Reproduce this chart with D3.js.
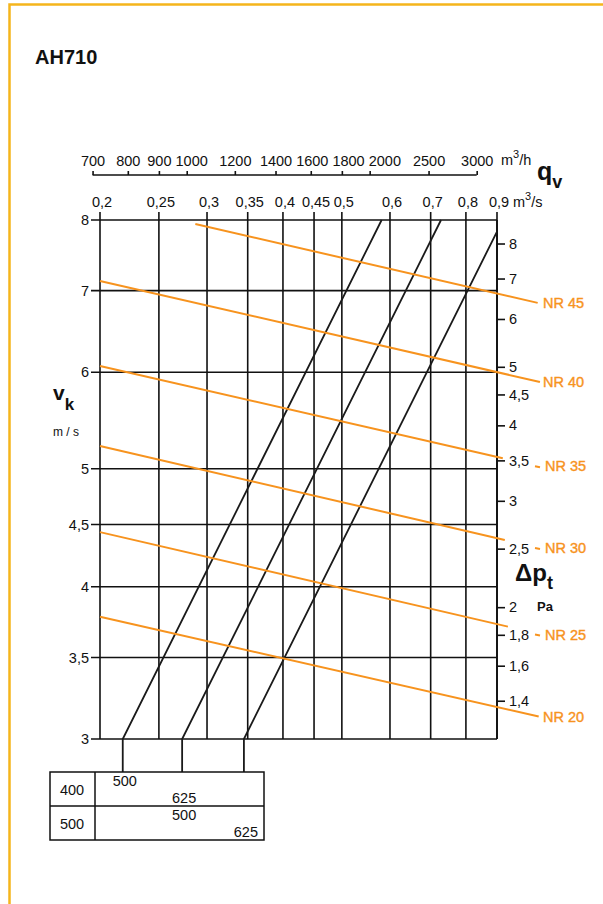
<!DOCTYPE html>
<html>
<meta charset="utf-8">
<title>AH710</title>
<script src="https://d3js.org/d3.v7.min.js" charset="utf-8"></script>
<style>
	body { margin: 0; background: #fff; }
	text { font-family: "Liberation Sans", Arial, sans-serif; fill: #111; }
	.grid line { stroke: #111; stroke-width: 1.6; }
	.duct { stroke: #1a1a1a; stroke-width: 1.8; fill: none; }
	.nr { stroke: #f7931e; stroke-width: 2; fill: none; }
	.nrlabel { fill: #f7931e; stroke: #f7931e; stroke-width: 0.4; font-size: 14.5px; }
	.tbl { stroke: #111; stroke-width: 1.5; fill: none; }
</style>
<body>
<script>

	// flow, m3/s (bottom labels) and m3/h (top scale)
	var qTicks = [0.2, 0.25, 0.3, 0.35, 0.4, 0.45, 0.5, 0.6, 0.7, 0.8, 0.9];
	var qhTicks = [700, 800, 900, 1000, 1200, 1400, 1600, 1800, 2000, 2500, 3000];
	// face velocity, m/s
	var vTicks = [3, 3.5, 4, 4.5, 5, 6, 7, 8];
	// pressure drop, Pa
	var dpTicks = [1.4, 1.6, 1.8, 2, 2.5, 3, 3.5, 4, 4.5, 5, 6, 7, 8];

	// duct lines: flow q (m3/s) where each line meets v = 3 m/s
	var ductQ = [0.218, 0.273, 0.345];
	var tableRows = ["400", "500"];
	var tableCells = [
		[{label: "500", duct: 0}, {label: "625", duct: 1}],
		[{label: "500", duct: 1}, {label: "625", duct: 2}]
	];

	// NR curves: start / end as [q, v]
	var nrNames = ["NR 45", "NR 40", "NR 35", "NR 30", "NR 25", "NR 20"];
	var nrStart = [[0.287, 7.94], [0.2, 7.13], [0.2, 6.07], [0.2, 5.22], [0.2, 4.435], [0.2, 3.78]];
	var nrEnd = [[1.05, 6.84], [1.059, 5.89], [0.92, 5.10], [0.927, 4.37], [0.938, 3.71], [1.054, 3.13]];
	var nrDash = [false, false, true, true, true, false];

	var width = 603, height = 904;
	var pLeft = 100, pRight = 497, pTop = 220, pBottom = 739;
	var fs = "14.5px";

	var x = d3.scaleLog().domain([0.2, 0.9]).range([pLeft, pRight]);
	var xh = d3.scaleLog().domain([0.2 * 3600, 0.9 * 3600]).range([pLeft, pRight]);
	var y = d3.scaleLog().domain([3, 8]).range([pBottom, pTop]);
	var yR = d3.scaleLog().domain([1.21, 8.75]).range([pBottom, pTop]);

	var comma = function(d) { return String(d).replace(".", ","); };

	var svg = d3.select("body").append("svg")
		.attr("width", width)
		.attr("height", height);

	// yellow frame
	svg.append("path")
		.attr("d", "M9.5," + height + "V4.5H" + width)
		.attr("fill", "none")
		.attr("stroke", "#f5b51c")
		.attr("stroke-width", 2.5);

	svg.append("text")
		.attr("x", 35).attr("y", 64)
		.style("font-size", "20px").style("font-weight", "bold")
		.text("AH710");

	/* grid */
	var grid = svg.append("g").attr("class", "grid");

	grid.selectAll(".vline")
		.data(qTicks).enter().append("line")
		.attr("x1", d => x(d)).attr("x2", d => x(d))
		.attr("y1", pTop - 8).attr("y2", pBottom);

	grid.selectAll(".hline")
		.data(vTicks).enter().append("line")
		.attr("x1", pLeft - 9).attr("x2", pRight)
		.attr("y1", d => y(d)).attr("y2", d => y(d));

	// m3/s labels
	svg.selectAll(".qlab")
		.data(qTicks).enter().append("text")
		.attr("x", d => x(d) + 2)
		.attr("y", pTop - 13)
		.attr("text-anchor", "middle")
		.style("font-size", fs)
		.text(comma);

	// left velocity labels
	svg.selectAll(".vlab")
		.data(vTicks).enter().append("text")
		.attr("x", pLeft - 11)
		.attr("y", d => y(d))
		.attr("dy", ".35em")
		.attr("text-anchor", "end")
		.style("font-size", fs)
		.text(comma);

	// top m3/h scale
	var axTop = svg.append("g")
		.attr("transform", "translate(0,175)")
		.call(d3.axisTop(xh).tickValues(qhTicks).tickSize(4).tickSizeOuter(0).tickFormat(d => d));
	axTop.select(".domain").remove();
	axTop.append("line")
		.attr("x1", xh(qhTicks[0])).attr("x2", xh(qhTicks[qhTicks.length - 1]))
		.attr("stroke", "#111").attr("stroke-width", 1.6);
	axTop.selectAll(".tick line").attr("stroke", "#111").attr("stroke-width", 1.6);
	axTop.selectAll("text")
		.attr("y", -9)
		.style("font-size", fs).style("font-family", "Liberation Sans, Arial, sans-serif").attr("fill", "#111");

	// crowded labels get pushed right, like on the printed sheet
	var prevEnd = -Infinity;
	axTop.selectAll(".tick").each(function(d) {
		var t = d3.select(this).select("text");
		var w = t.node().getComputedTextLength();
		var cx = Math.max(xh(d), prevEnd + 4 + w / 2);
		t.attr("x", cx - xh(d));
		prevEnd = cx + w / 2;
	});

	// right pressure scale
	var axRight = svg.append("g")
		.attr("transform", "translate(" + pRight + ",0)")
		.call(d3.axisRight(yR).tickValues(dpTicks).tickSize(8).tickSizeOuter(0).tickFormat(comma));
	axRight.select(".domain").remove();
	axRight.append("line")
		.attr("y1", pTop).attr("y2", pBottom)
		.attr("stroke", "#111").attr("stroke-width", 1.8);
	axRight.selectAll(".tick line").attr("stroke", "#111").attr("stroke-width", 1.6);
	axRight.selectAll("text")
		.attr("x", 12)
		.style("font-size", fs).style("font-family", "Liberation Sans, Arial, sans-serif").attr("fill", "#111");

	/* axis titles */
	var unitH = svg.append("text").attr("x", 501).attr("y", 165).style("font-size", fs);
	unitH.append("tspan").text("m");
	unitH.append("tspan").attr("dy", -7).style("font-size", "11px").text("3");
	unitH.append("tspan").attr("dy", 7).text("/h");

	var unitS = svg.append("text").attr("x", 513).attr("y", 207).style("font-size", fs);
	unitS.append("tspan").text("m");
	unitS.append("tspan").attr("dy", -7).style("font-size", "11px").text("3");
	unitS.append("tspan").attr("dy", 7).text("/s");

	var qv = svg.append("text").attr("x", 537).attr("y", 180).style("font-weight", "bold").style("font-size", "25px");
	qv.append("tspan").text("q");
	qv.append("tspan").attr("dy", 8).style("font-size", "18px").text("v");

	var vk = svg.append("text").attr("x", 53).attr("y", 400).style("font-weight", "bold").style("font-size", "21px");
	vk.append("tspan").text("v");
	vk.append("tspan").attr("dy", 10).style("font-size", "17px").text("k");
	svg.append("text").attr("x", 53).attr("y", 436).style("font-size", "12px").text("m / s");

	var dp = svg.append("text").attr("x", 515).attr("y", 581).style("font-weight", "bold").style("font-size", "24px");
	dp.append("tspan").text("Δp");
	dp.append("tspan").attr("dy", 8).style("font-size", "18px").text("t");
	svg.append("text").attr("x", 537).attr("y", 611).style("font-size", "13px").style("font-weight", "bold").text("Pa");

	/* duct lines: v proportional to q */
	ductQ.forEach(function(q0) {
		var qTop = Math.min(q0 * 8 / 3, 0.9);
		var vTop = qTop / q0 * 3;
		svg.append("path")
			.attr("class", "duct")
			.attr("d", d3.line()([[x(q0), 772], [x(q0), y(3)], [x(qTop), y(vTop)]]));
	});

	/* NR curves */
	nrNames.forEach(function(name, i) {
		var a = nrStart[i], b = nrEnd[i];
		svg.append("line")
			.attr("class", "nr")
			.attr("x1", x(a[0])).attr("y1", y(a[1]))
			.attr("x2", x(b[0])).attr("y2", y(b[1]));
		var ly = y(b[1]) + (nrDash[i] ? 8 : 0);
		if (nrDash[i]) {
			svg.append("line")
				.attr("class", "nr")
				.attr("x1", 535).attr("x2", 540)
				.attr("y1", ly).attr("y2", ly + 1);
		}
		svg.append("text")
			.attr("class", "nrlabel")
			.attr("x", nrDash[i] ? 545 : 543)
			.attr("y", ly)
			.attr("dy", ".36em")
			.text(name);
	});

	/* size table */
	var tb = svg.append("g");
	tb.append("rect").attr("class", "tbl").attr("x", 50).attr("y", 772).attr("width", 214).attr("height", 68);
	tb.append("line").attr("class", "tbl").attr("x1", 50).attr("x2", 264).attr("y1", 806).attr("y2", 806);
	tb.append("line").attr("class", "tbl").attr("x1", 95).attr("x2", 95).attr("y1", 772).attr("y2", 840);

	tableRows.forEach(function(r, i) {
		var y0 = 772 + i * 34;
		tb.append("text")
			.attr("x", 72).attr("y", y0 + 18).attr("dy", ".35em")
			.attr("text-anchor", "middle").style("font-size", fs)
			.text(r);
		tableCells[i].forEach(function(c, j) {
			tb.append("text")
				.attr("x", x(ductQ[c.duct]) + 2)
				.attr("y", y0 + 9 + j * 17).attr("dy", ".35em")
				.attr("text-anchor", "middle").style("font-size", fs)
				.text(c.label);
		});
	});

</script>
</body>
</html>
